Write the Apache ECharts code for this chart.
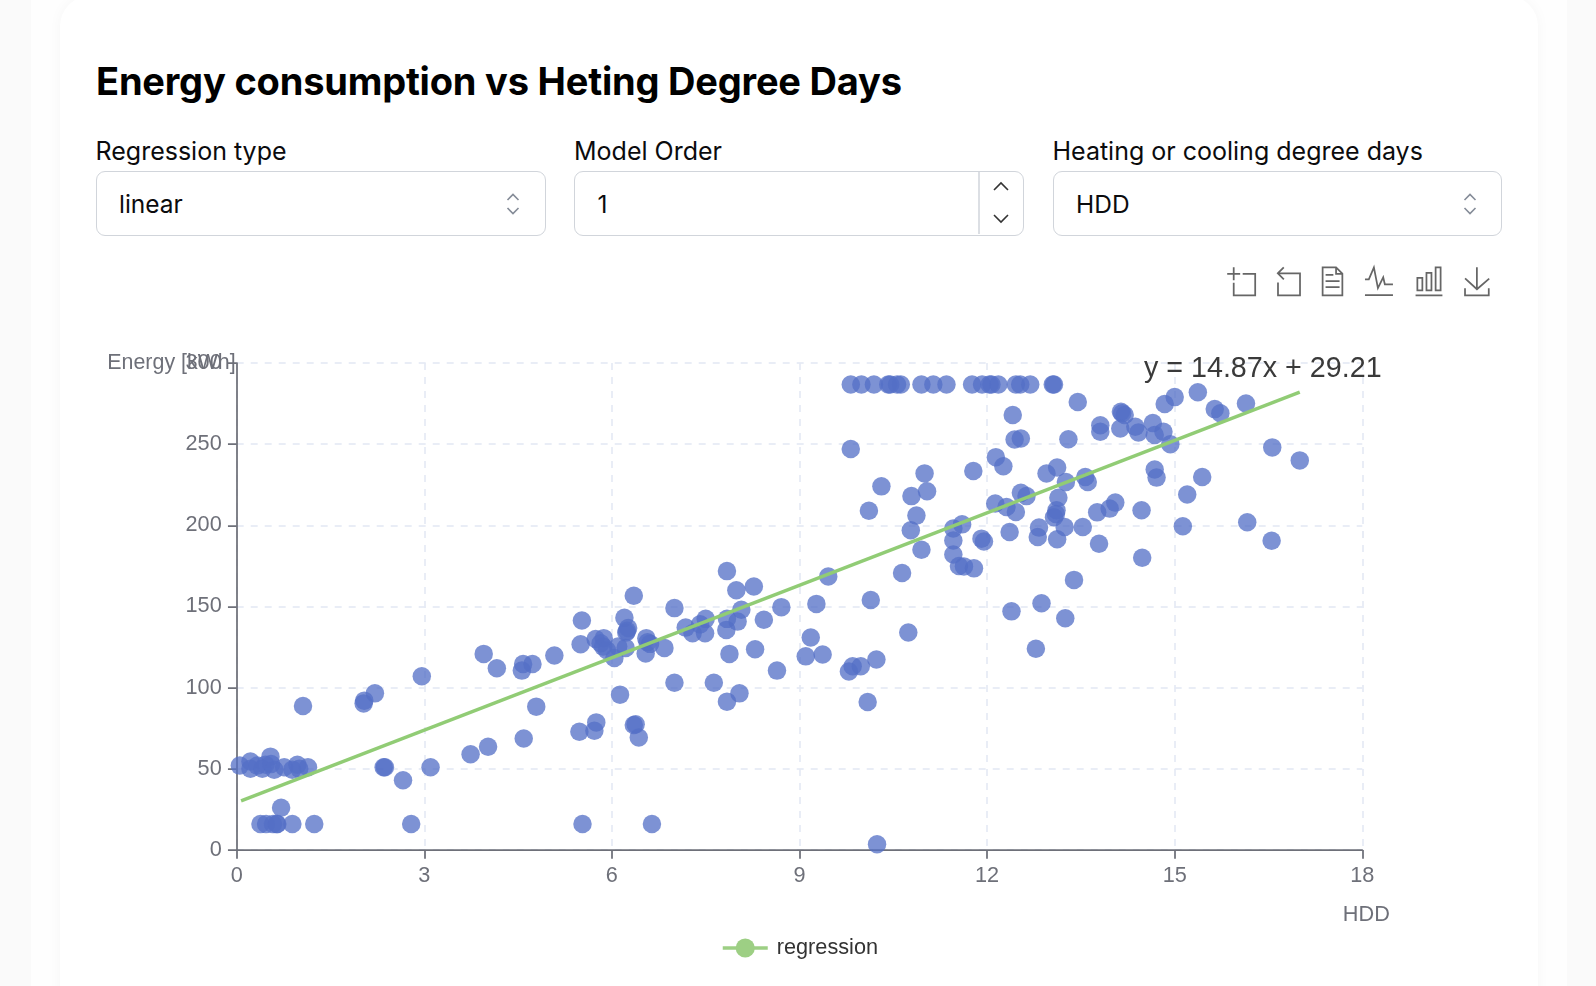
<!DOCTYPE html>
<html>
<head>
<meta charset="utf-8">
<script src="https://cdn.jsdelivr.net/npm/echarts@6/dist/echarts.min.js"></script>
<style>
html, body { margin: 0; padding: 0; width: 1596px; height: 986px; overflow: hidden; background: #fafafa; font-family: Inter, sans-serif; color: #0b0b0d; }
.panel { position: absolute; left: 31px; top: 0; width: 1536px; height: 986px; background: #fefefe; }
.card { position: absolute; left: 60px; top: -4px; width: 1478px; height: 1100px; background: #fff; border-radius: 30px; box-shadow: 0 0 14px rgba(0,0,0,.035); }
h1 { position: absolute; left: 96px; top: 57px; margin: 0; font-size: 38px; line-height: 48px; font-weight: 700; letter-spacing: -0.2px; color: #000; white-space: nowrap; }
.label { position: absolute; top: 136px; font-size: 25px; line-height: 30px; white-space: nowrap; }
.box { position: absolute; top: 170.5px; width: 450px; height: 65px; box-sizing: border-box; border: 1.5px solid #d1d5db; border-radius: 9px; font-size: 24.5px; line-height: 65px; padding-left: 22.5px; background: #fff; }
.box svg { position: absolute; }
.divider { position: absolute; left: 403px; top: 0; width: 1.5px; height: 62px; background: #dcdfe4; }
#main { position: absolute; left: 96px; top: 250px; width: 1407px; height: 736px; }
</style>
</head>
<body>
<div class="panel"></div>
<div class="card"></div>
<h1>Energy consumption vs Heting Degree Days</h1>

<div class="label" style="left:95.5px">Regression type</div>
<div class="box" style="left:95.5px">linear
  <svg style="left:405.5px;top:19px" width="22" height="26" viewBox="0 0 22 26" fill="none" stroke="#858c98" stroke-width="1.6"><path d="M5.5 9l5.5-5.5 5.5 5.5M5.5 17l5.5 5.5 5.5-5.5"/></svg>
</div>

<div class="label" style="left:574px">Model Order</div>
<div class="box" style="left:574px">1
  <div class="divider"></div>
  <svg style="left:413.5px;top:2.5px" width="24" height="62" viewBox="0 0 24 62" fill="none" stroke="#333" stroke-width="1.6"><path d="M5 16l7-7 7 7M5 41l7 7 7-7"/></svg>
</div>

<div class="label" style="left:1052.5px">Heating or cooling degree days</div>
<div class="box" style="left:1052.5px;width:449px">HDD
  <svg style="left:405.5px;top:19px" width="22" height="26" viewBox="0 0 22 26" fill="none" stroke="#858c98" stroke-width="1.6"><path d="M5.5 9l5.5-5.5 5.5 5.5M5.5 17l5.5 5.5 5.5-5.5"/></svg>
</div>

<div id="main"></div>

<script>
// values
const hdd = [
  0.05, 0.22, 0.22, 0.33, 0.41, 0.46, 0.54, 0.55, 0.6, 0.76, 0.89, 0.97, 1.0, 1.14,
  0.38, 0.47, 0.58, 0.64, 0.65, 0.89, 1.24, 0.71,
  1.06, 2.03, 2.04, 2.21, 2.96, 2.35, 2.37, 2.66, 3.1, 3.74, 4.02, 4.59, 4.79,
  3.95, 4.16, 4.56, 4.58, 4.73, 5.08, 5.5, 5.52, 5.48, 5.72, 5.75, 5.53, 6.64, 2.79,
  6.13, 6.35, 6.38, 6.43,
  5.74, 5.87, 5.82, 5.86, 5.92, 6.04, 6.1, 6.22, 6.2, 6.35, 6.26, 6.23, 6.24, 6.55, 6.57, 6.61, 6.54, 6.84,
  7.0, 7.0, 7.18, 7.29, 7.41, 7.5, 7.49, 7.63, 7.83, 7.84, 7.88, 7.84, 8.04, 7.84, 7.99, 8.27, 8.07, 8.01,
  8.43, 8.29, 8.71, 8.64, 9.27, 9.46, 9.18, 9.1, 9.37, 9.79, 9.85, 9.98, 10.23, 10.14, 10.09, 10.74, 10.24,
  9.82, 9.99, 10.19, 10.42, 10.45, 10.56, 10.62, 10.95, 11.14, 11.35, 11.76, 11.92, 12.04, 12.07, 12.18, 12.46, 12.53, 12.69, 13.05, 13.07,
  9.82, 10.31, 10.11, 10.79, 11.0, 11.04, 10.87, 10.78, 10.95, 10.64,
  11.46, 11.6, 11.46, 11.46, 11.55, 11.63, 11.79, 11.78, 12.14, 12.26, 12.41, 12.44, 12.54, 12.13, 12.31, 12.46,
  11.91, 11.95, 12.36, 12.54, 12.63, 12.95, 13.12, 13.26, 13.14, 13.11, 13.1, 13.07, 12.83, 12.81, 13.24, 13.12,
  13.53, 13.76, 13.96, 14.05, 13.79, 13.57, 13.61, 13.3, 13.45, 13.81, 13.81, 14.13, 14.14, 14.2, 14.16, 14.37, 14.42,
  14.65, 14.68, 14.82, 14.93, 14.84, 15.0, 15.37, 14.68, 14.71, 14.47, 15.2, 15.13, 15.44, 13.39, 14.48,
  16.56, 17.0, 16.16, 16.55, 16.14, 15.64, 15.73,
  12.78, 13.25, 12.39, 12.87
]
const energy = [
  52, 54.5, 50, 52, 50, 52.5, 57.5, 53, 49.5, 51, 49.5, 52.5, 50, 51,
  16, 16, 16, 16, 16, 16, 16, 26,
  88.7, 90.3, 92, 96.5, 107, 51, 51, 43, 51, 59, 63.6, 68.7, 88.3,
  120.8, 112, 110.5, 114.6, 114.6, 119.8, 126.7, 141.4, 72.8, 73.5, 78.6, 16, 16, 16,
  95.7, 77, 77.4, 69.3,
  130, 130.5, 127.4, 125.3, 123, 118.3, 125.3, 124.5, 143, 156.6, 136.8, 134, 135, 130.5, 128, 127, 121, 124.5,
  149, 103, 137, 133.5, 139, 142.4, 133.5, 103, 135.6, 142.4, 120.8, 91.4, 96.5, 171.8, 160, 162.3, 148, 140.7,
  141.8, 123.7, 149.6, 110.5, 151.6, 168.5, 130.9, 119.3, 120.4, 110, 113.2, 113.2, 117.3, 154, 91.2, 134, 3.5,
  286.8, 286.8, 286.8, 286.8, 286.8, 286.8, 286.8, 286.8, 286.8, 286.8, 286.8, 286.8, 286.8, 286.8, 286.8, 286.8, 286.8, 286.8, 286.8, 286.8,
  247, 224, 209, 218, 232, 221, 206, 197, 185, 170.6,
  198, 200.6, 190.7, 182, 175, 174.7, 173.5, 233.5, 242, 236.4, 268, 252.9, 253.5, 213.4, 211.3, 208.2,
  191.8, 190, 195.9, 220, 218, 231.9, 235.6, 226.7, 217, 209.3, 207, 205, 198.6, 192.8, 199, 191.4,
  199, 208, 210.3, 214, 188.7, 229.8, 226.7, 253, 276, 261.7, 257.6, 259.7, 270, 268, 269, 260.7, 257.2,
  263, 255.6, 257.6, 250, 274.7, 279, 282, 234.4, 229.4, 209.3, 219, 199.4, 229.8, 166.4, 180,
  248, 240, 201.9, 190.5, 275, 271.6, 269,
  124, 142.8, 147, 152
]
const regressionX = [0.07, 17]
const regressionY = [30.3, 282]
const expression = 'y = 14.87x + 29.21'

const points = hdd.map((x, i) => [x, energy[i]])
const linePoints = regressionX.map((x, i) => [x, regressionY[i]])

const chart = echarts.init(document.getElementById('main'))
const gridLine = { show: true, lineStyle: { color: '#E6EBF5', width: 1.75, type: [7, 7] } }
const axisLine = { show: true, lineStyle: { color: '#6E7079', width: 1.75 } }
const axisTick = { show: true, length: 8.75, lineStyle: { color: '#6E7079', width: 1.75 } }
const axisFont = 'Liberation Sans'

chart.setOption({
  animation: false,
  legend: {
    data: ['regression'], top: 682, left: 'center',
    itemWidth: 45, itemHeight: 24,
    itemStyle: { color: '#9dcf84' },
    lineStyle: { color: '#9dcf84', width: 3.5 },
    textStyle: { fontFamily: axisFont, fontSize: 21.7, color: '#333', padding: [0, 0, 0, 4] }
  },
  toolbox: {
    right: 11.3, top: 14.8, padding: 0, itemSize: 28, itemGap: 17.6,
    iconStyle: { borderColor: '#666', borderWidth: 1.75 },
    feature: {
      dataZoom: {},
      dataView: {},
      magicType: { type: ['line', 'bar'] },
      saveAsImage: {}
    }
  },
  grid: { left: 140.7, right: 140.7, top: 113, bottom: 136 },
  xAxis: {
    type: 'value', min: 0, max: 18, interval: 3,
    name: 'HDD', nameLocation: 'end', nameGap: 0, nameMoveOverlap: false,
    nameTextStyle: { fontFamily: axisFont, fontSize: 21.7, color: '#6E7079', align: 'center', verticalAlign: 'top', padding: [54, 0, 0, 8] },
    axisLine, axisTick, splitLine: gridLine,
    axisLabel: { fontFamily: axisFont, fontSize: 21.7, color: '#6E7079', margin: 15 }
  },
  yAxis: {
    type: 'value', min: 0, max: 300, interval: 50,
    name: 'Energy [kWh]', nameLocation: 'end', nameGap: 0, nameMoveOverlap: false,
    nameTextStyle: { fontFamily: axisFont, fontSize: 21.4, color: '#6E7079', align: 'right', verticalAlign: 'middle', padding: [4, 1, 0, 0] },
    axisLine, axisTick, splitLine: gridLine,
    axisLabel: { fontFamily: axisFont, fontSize: 21.7, color: '#6E7079', margin: 15 }
  },
  series: [
    {
      name: 'scatter', type: 'scatter', data: points, symbolSize: 18.5,
      itemStyle: { color: '#5470c6', opacity: 0.76 }
    },
    {
      name: 'regression', type: 'line', data: linePoints, showSymbol: false,
      symbol: 'circle', symbolSize: 20,
      lineStyle: { color: '#91cc75', width: 3.5 },
      itemStyle: { color: '#91cc75' },
      markPoint: {
        symbol: 'circle', symbolSize: 1,
        itemStyle: { color: 'transparent' },
        label: {
          show: true, position: 'inside', offset: [-37, -23],
          formatter: expression,
          fontFamily: axisFont, fontSize: 28.7, color: '#3a3a3a'
        },
        data: [{ coord: linePoints[1] }]
      }
    }
  ]
})
</script>
</body>
</html>
